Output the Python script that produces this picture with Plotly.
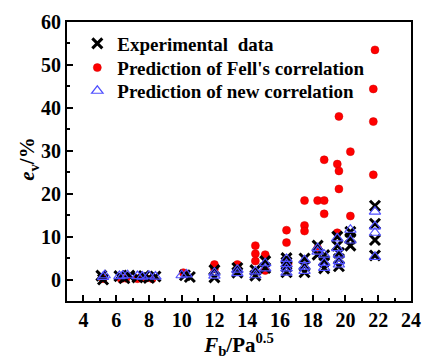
import plotly.graph_objects as go

# Experimental data (black X)
exp_x = [5.1, 5.2, 6.2, 6.5, 6.8, 7.3, 7.7, 8.0, 8.4, 10.2, 10.5,
         12.0, 12.0, 13.4, 13.4, 14.5, 14.5, 15.1, 15.1,
         16.4, 16.4, 16.4, 16.4, 17.5, 17.5, 17.5,
         18.3, 18.3, 18.7, 18.7, 18.7,
         19.5, 19.5, 19.6, 19.6, 19.6, 20.3, 20.3, 20.3,
         21.8, 21.8, 21.8, 21.8]
exp_y = [0.9, 0.0, 0.8, 0.3, 0.9, 0.5, 0.8, 0.4, 0.7, 1.0, 0.6,
         2.2, 0.5, 2.7, 1.6, 2.2, 0.9, 4.3, 2.7,
         5.0, 4.0, 3.0, 1.7, 4.9, 3.2, 1.7,
         7.9, 5.8, 5.7, 4.3, 2.6,
         10.0, 7.9, 6.2, 4.8, 3.1, 11.1, 9.6, 7.9,
         17.2, 13.0, 9.2, 5.6]

# Prediction of Fell's correlation (red circles)
fell_x = [5.2, 6.3, 6.6, 7.3, 7.8, 8.2, 10.1,
          12.0, 12.0, 13.4, 14.5, 14.5, 14.5, 15.1, 15.1,
          16.4, 16.4, 16.5, 17.5, 17.5, 17.5, 18.3, 18.3,
          18.7, 18.7, 18.7, 19.6, 19.5, 19.6, 19.6, 19.5,
          20.3, 20.3, 21.8, 21.7, 21.7, 21.7]
fell_y = [0.2, 0.2, 0.3, 0.2, 0.3, 0.2, 1.6,
          3.5, 2.5, 3.5, 7.9, 6.0, 4.3, 5.8, 2.1,
          11.5, 8.6, 3.7, 18.4, 12.6, 11.3, 18.4, 7.3,
          27.9, 18.4, 15.3, 38.0, 26.9, 25.3, 21.1, 10.9,
          29.8, 14.8, 53.5, 44.4, 36.8, 24.4]

# Prediction of new correlation (blue open triangles)
new_x = [5.2, 5.3, 6.2, 6.4, 6.7, 7.3, 7.6, 8.0, 8.4, 10.0, 10.3,
         12.0, 12.0, 13.4, 13.4, 14.5, 14.5, 15.1, 15.1,
         16.4, 16.4, 16.4, 16.4, 17.5, 17.5, 17.5,
         18.3, 18.3, 18.7, 18.7, 18.7,
         19.5, 19.5, 19.6, 19.6, 19.6, 20.3, 20.3,
         21.8, 21.8, 21.8, 21.8]
new_y = [0.6, 1.0, 0.8, 0.9, 1.0, 0.8, 0.7, 0.9, 0.7, 1.0, 1.2,
         1.6, 0.9, 2.3, 1.5, 1.9, 1.0, 3.8, 2.6,
         4.8, 3.6, 2.6, 1.6, 4.5, 3.0, 2.0,
         7.3, 6.5, 5.8, 3.9, 2.7,
         9.6, 7.3, 5.8, 4.3, 3.5, 11.6, 9.1,
         15.8, 12.4, 10.9, 5.3]

x_ticks = [4, 6, 8, 10, 12, 14, 16, 18, 20, 22, 24]
y_ticks = [0, 10, 20, 30, 40, 50, 60]

FONT = "Liberation Serif"

fig = go.Figure()
fig.add_trace(go.Scatter(
    x=fell_x, y=fell_y, mode="markers", name="Prediction of Fell's correlation",
    marker=dict(symbol="circle", size=8, color="#ff0000",
                line=dict(color="#d00000", width=0.5)),
    legend="legend2"))
fig.add_trace(go.Scatter(
    x=exp_x, y=exp_y, mode="markers", name="Experimental  data",
    marker=dict(symbol="x-thin", size=10, color="black",
                line=dict(color="black", width=3)),
    legend="legend"))
fig.add_trace(go.Scatter(
    x=new_x, y=new_y, mode="markers", name="Prediction of new correlation",
    marker=dict(symbol="triangle-up-open", size=10, color="#5050ff",
                line=dict(color="#5050ff", width=1.2)),
    legend="legend3"))

axis_common = dict(
    showline=True, linecolor="black", linewidth=2, mirror=True,
    ticks="inside", ticklen=6, tickwidth=2, tickcolor="black",
    showgrid=False, zeroline=False,
    tickfont=dict(family=FONT, size=20, color="black", weight="bold"),
)

fig.update_xaxes(
    range=[3, 24], tickvals=x_ticks, ticktext=[str(v) for v in x_ticks],
    minor=dict(ticks="inside", ticklen=3, tickwidth=2, tickcolor="black", dtick=1, tick0=3),
    title=dict(text="<b><i>F</i><sub>b</sub>/Pa<sup>0.5</sup></b>",
               font=dict(family=FONT, size=21, color="black"), standoff=2),
    **axis_common)
fig.update_yaxes(
    range=[-5, 60], tickvals=y_ticks, ticktext=[str(v) for v in y_ticks],
    minor=dict(ticks="inside", ticklen=3, tickwidth=2, tickcolor="black", dtick=5, tick0=-5),
    **axis_common)

leg_font = dict(family=FONT, size=19, color="black", weight="bold")
leg_common = dict(x=0.03, xanchor="left", yanchor="middle",
                  bgcolor="rgba(0,0,0,0)", font=leg_font)

fig.add_annotation(
    text="<b><i>e</i><sub>v</sub>/%</b>", textangle=-90,
    xref="paper", yref="paper", x=-0.113, y=0.51,
    xanchor="center", yanchor="middle", showarrow=False,
    font=dict(family=FONT, size=21, color="black"))

fig.update_layout(
    width=432, height=359,
    margin=dict(l=67, r=11, t=20, b=53),
    paper_bgcolor="white", plot_bgcolor="white",
    showlegend=True,
    legend=dict(y=0.923, **leg_common),
    legend2=dict(y=0.836, **leg_common),
    legend3=dict(y=0.753, **leg_common),
)

fig.write_html("out.html")
